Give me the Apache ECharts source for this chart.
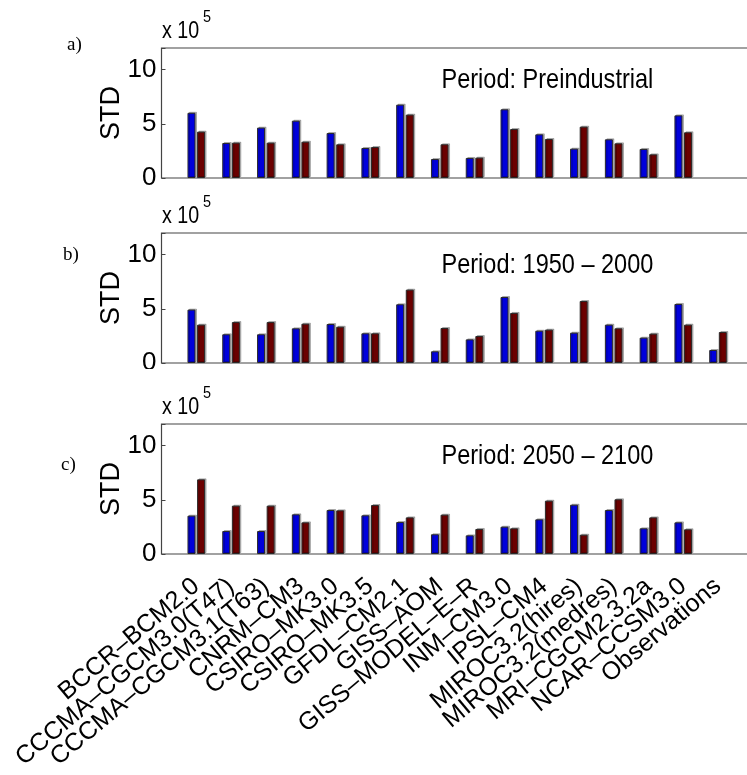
<!DOCTYPE html>
<html>
<head>
<meta charset="utf-8">
<script src="https://cdn.jsdelivr.net/npm/echarts@6/dist/echarts.min.js"></script>
<style>
    html, body { margin: 0; padding: 0; background: #fff; }
    #chart { width: 747px; height: 775px; }
</style>
</head>
<body>
<div id="chart"></div>
<script>
// model names (x axis)
var models = ['BCCR–BCM2.0', 'CCCMA–CGCM3.0(T47)', 'CCCMA–CGCM3.1(T63)', 'CNRM–CM3',
    'CSIRO–MK3.0', 'CSIRO–MK3.5', 'GFDL–CM2.1', 'GISS–AOM', 'GISS–MODEL–E–R',
    'INM–CM3.0', 'IPSL–CM4', 'MIROC3.2(hires)', 'MIROC3.2(medres)', 'MRI–CGCM2.3.2a',
    'NCAR–CCSM3.0', 'Observations'];

var periods = ['Period: Preindustrial', 'Period: 1950 – 2000', 'Period: 2050 – 2100'];
var panelTags = ['a)', 'b)', 'c)'];
var yTicks = [0, 5, 10];

// STD values (x 10^5), blue and red bars per panel
var blueA = [6.02, 3.23, 4.65, 5.29, 4.15, 2.77, 6.77, 1.75, 1.85, 6.34, 4.03, 2.71, 3.57, 2.68, 5.78, null];
var redA  = [4.28, 3.26, 3.26, 3.35, 3.11, 2.86, 5.85, 3.11, 1.88, 4.52, 3.60, 4.74, 3.20, 2.18, 4.22, null];
var blueB = [4.93, 2.65, 2.65, 3.20, 3.60, 2.74, 5.42, 1.08, 2.18, 6.09, 2.98, 2.80, 3.54, 2.34, 5.45, 1.20];
var redB  = [3.54, 3.78, 3.78, 3.63, 3.35, 2.74, 6.77, 3.23, 2.49, 4.62, 3.08, 5.72, 3.20, 2.71, 3.54, 2.86];
var blueC = [3.54, 2.12, 2.12, 3.66, 4.06, 3.57, 2.95, 1.82, 1.72, 2.52, 3.20, 4.55, 4.06, 2.37, 2.92, null];
var redC  = [6.89, 4.46, 4.46, 2.92, 4.03, 4.52, 3.38, 3.63, 2.31, 2.37, 4.92, 1.78, 5.05, 3.38, 2.28, null];

var SANS = "'Liberation Sans', Arial, sans-serif";
var SERIF = "'Liberation Serif', 'Times New Roman', serif";

var panelTops = [48, 233, 424];
var panelH = 130;
var plotLeft = 161.5;
var plotW = 591.3; // xlim [0, 17], right edge falls off the page

function $each(arr, fn) {
    for (var i = 0; i < arr.length; i++) fn(i, arr[i]);
}

// 把数组转成 [x, y] 形式
function toPairs(arr) {
    var out = [];
    $each(arr, function (i, v) {
        if (v !== null) out.push([i + 1, v]);
    });
    return out;
}

function barSeries(idx, data, color) {
    return {
        type: 'bar',
        xAxisIndex: idx,
        yAxisIndex: idx,
        data: toPairs(data),
        barWidth: 8,
        barGap: '20%',
        silent: true,
        itemStyle: {
            color: color,
            borderColor: '#2a2a2a',
            borderWidth: 1,
            shadowColor: 'rgba(0,0,0,0.25)',
            shadowOffsetX: 1.5,
            shadowOffsetY: -1,
            shadowBlur: 0
        }
    };
}

function textEl(x, y, text, size, family, scaleX) {
    return {
        type: 'text', x: x, y: y, z: 10,
        scaleX: scaleX || 1,
        style: { text: text, fontSize: size, fontFamily: family, fill: '#000', align: 'left', verticalAlign: 'middle' }
    };
}

function generateChart() {
    var myChart = echarts.init(document.getElementById('chart'));
    var grids = [], xAxes = [], yAxes = [], series = [], graphics = [];
    var blues = [blueA, blueB, blueC];
    var reds = [redA, redB, redC];

    $each(panelTops, function (i, top) {
        grids.push({
            left: plotLeft,
            top: top,
            width: plotW,
            height: panelH,
            outerBoundsMode: 'none',
            show: true,
            borderColor: '#444',
            borderWidth: 1.2,
            backgroundColor: '#fff'
        });
        xAxes.push({
            type: 'value',
            gridIndex: i,
            min: 0,
            max: 17,
            interval: 1,
            axisLine: { show: false },
            axisTick: { show: false },
            splitLine: { show: false },
            axisLabel: {
                show: i === 2,
                rotate: 40,
                margin: 29,
                fontSize: 25,
                fontFamily: SANS,
                color: '#000',
                formatter: function (v) {
                    return models[v - 1] || '';
                }
            }
        });
        yAxes.push({
            type: 'value',
            gridIndex: i,
            min: 0,
            max: 12,
            interval: 5,
            name: 'STD',
            nameLocation: 'middle',
            nameRotate: 90,
            nameGap: 36,
            nameMoveOverlap: false,
            nameTextStyle: { fontSize: 27, fontFamily: SANS, color: '#000' },
            axisLine: { show: false },
            axisTick: { show: true, inside: true, length: 4, lineStyle: { color: '#444' } },
            splitLine: { show: false },
            axisLabel: {
                margin: 5,
                fontSize: 26,
                fontFamily: SANS,
                color: '#000',
                formatter: function (v) {
                    return yTicks.indexOf(v) >= 0 ? String(v) : '';
                }
            }
        });
        series.push(barSeries(i, blues[i], '#0000dc'));
        series.push(barSeries(i, reds[i], '#6b0000'));

        var off = top - panelTops[0];
        // x 10^5 标注
        graphics.push(textEl(162, off + 31, 'x 10', 24, SANS, 0.82));
        graphics.push(textEl(203, off + 17, '5', 17, SANS, 0.85));
        // 周期标题
        graphics.push(textEl(441.5, off + 80, periods[i], 28, SANS, 0.84));
    });

    // panel tags a) b) c)
    graphics.push(textEl(67, 45, panelTags[0], 19, SERIF));
    graphics.push(textEl(63, 255, panelTags[1], 19, SERIF));
    graphics.push(textEl(61, 465, panelTags[2], 19, SERIF));

    // panel c 的白底遮住 b 的 "0" 下半部
    graphics.push({
        type: 'rect', z: 5,
        shape: { x: 100, y: 369, width: 60, height: 14 },
        style: { fill: '#fff' }
    });

    myChart.setOption({
        animation: false,
        backgroundColor: '#fff',
        grid: grids,
        xAxis: xAxes,
        yAxis: yAxes,
        series: series,
        graphic: graphics
    });
}

generateChart();
</script>
</body>
</html>
